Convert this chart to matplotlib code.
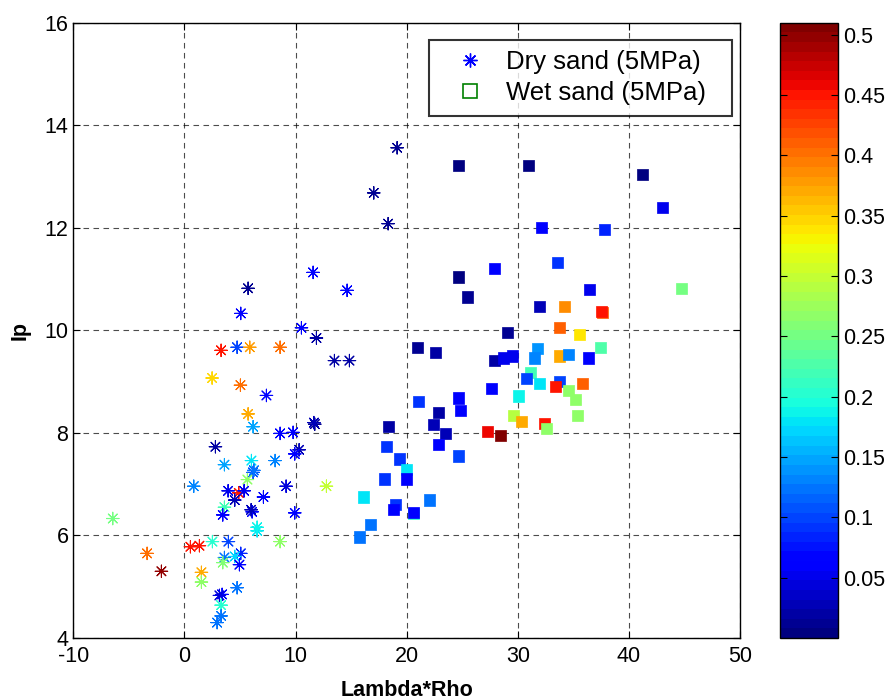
import numpy as np
import matplotlib
matplotlib.use('Agg')
import matplotlib.pyplot as plt
from matplotlib.lines import Line2D

plt.rcParams['font.family'] = ['Liberation Sans', 'DejaVu Sans']
plt.rcParams['axes.unicode_minus'] = False

# ---------------------------------------------------------------
# Data (x = Lambda*Rho, y = Ip, c = colour value)
# ---------------------------------------------------------------
dry_x = [11.58, 5.73, 5.07, 10.53, 11.88, 3.30, 4.74, 5.88, 8.61, 2.49,
         5.04, 7.38, 5.73, 6.18, 11.73, 11.65, 8.61, 9.78, 2.79, 10.32,
         9.93, 3.60, 6.03, 8.16, 6.18, 6.25, 5.67, 0.84, 9.15, 12.78,
         3.93, 4.89, 5.37, 7.11, 4.53, 3.60, 3.45, 6.09, 6.00, 9.93,
         -6.45, 6.54, 6.54, 2.52, 3.96, 8.61, 0.54, 1.35, -3.36, 5.07,
         3.60, 4.53, 3.45, 4.95, -2.07, 1.53, 1.53, 4.74, 3.39, 3.15,
         3.30, 3.30, 2.94, 19.14, 17.04, 18.33, 14.64, 13.50, 14.85]
dry_y = [11.13, 10.82, 10.33, 10.05, 9.85, 9.61, 9.67, 9.67, 9.67, 9.07,
         8.93, 8.73, 8.37, 8.12, 8.17, 8.20, 7.99, 8.01, 7.73, 7.67,
         7.59, 7.38, 7.46, 7.46, 7.23, 7.27, 7.09, 6.96, 6.96, 6.96,
         6.87, 6.83, 6.87, 6.75, 6.69, 6.55, 6.40, 6.46, 6.50, 6.44,
         6.33, 6.09, 6.16, 5.88, 5.88, 5.88, 5.78, 5.80, 5.65, 5.65,
         5.57, 5.59, 5.47, 5.43, 5.30, 5.28, 5.09, 4.98, 4.85, 4.83,
         4.64, 4.43, 4.30, 13.56, 12.68, 12.08, 10.78, 9.41, 9.41]
dry_c = [0.06, 0.01, 0.06, 0.06, 0.02, 0.45, 0.10, 0.38, 0.40, 0.35,
         0.40, 0.06, 0.37, 0.15, 0.01, 0.03, 0.06, 0.06, 0.02, 0.03,
         0.06, 0.15, 0.18, 0.13, 0.11, 0.12, 0.27, 0.13, 0.04, 0.30,
         0.05, 0.45, 0.05, 0.07, 0.03, 0.22, 0.06, 0.07, 0.03, 0.07,
         0.25, 0.18, 0.19, 0.20, 0.10, 0.27, 0.45, 0.45, 0.40, 0.08,
         0.12, 0.17, 0.26, 0.06, 0.50, 0.37, 0.27, 0.12, 0.06, 0.04,
         0.20, 0.12, 0.12, 0.01, 0.01, 0.01, 0.07, 0.02, 0.02]

wet_x = [24.69, 30.99, 41.19, 43.00, 32.10, 37.80, 33.60, 44.76, 27.90, 24.69,
         25.47, 36.48, 31.98, 34.23, 37.60, 37.50, 33.73, 35.53, 37.44, 29.05,
         20.94, 22.59, 27.90, 28.69, 29.52, 31.80, 31.48, 33.73, 34.53, 36.34,
         31.14, 30.78, 31.95, 33.73, 33.42, 35.85, 34.53, 35.19, 35.34, 30.03,
         27.60, 24.66, 24.84, 21.09, 22.89, 22.38, 18.33, 23.52, 29.64, 30.33,
         32.43, 32.61, 27.27, 28.42, 22.89, 18.18, 24.66, 19.32, 19.98, 18.03,
         19.98, 16.08, 22.08, 18.99, 18.84, 20.64, 20.64, 16.74, 15.78]
wet_y = [13.22, 13.22, 13.04, 12.40, 12.01, 11.96, 11.32, 10.82, 11.21, 11.04,
         10.65, 10.79, 10.47, 10.47, 10.34, 10.37, 10.06, 9.92, 9.67, 9.95,
         9.67, 9.56, 9.42, 9.46, 9.50, 9.64, 9.46, 9.50, 9.53, 9.46,
         9.18, 9.06, 8.97, 9.01, 8.90, 8.97, 8.82, 8.65, 8.34, 8.72,
         8.86, 8.68, 8.43, 8.62, 8.39, 8.16, 8.12, 7.98, 8.34, 8.23,
         8.19, 8.09, 8.02, 7.95, 7.77, 7.73, 7.55, 7.49, 7.29, 7.10,
         7.10, 6.75, 6.69, 6.61, 6.50, 6.42, 6.45, 6.22, 5.97]
wet_c = [0.00, 0.00, 0.00, 0.05, 0.06, 0.08, 0.09, 0.25, 0.06, 0.00,
         0.01, 0.05, 0.03, 0.39, 0.41, 0.45, 0.41, 0.34, 0.23, 0.01,
         0.01, 0.02, 0.02, 0.05, 0.05, 0.14, 0.13, 0.37, 0.13, 0.06,
         0.22, 0.10, 0.18, 0.10, 0.45, 0.41, 0.27, 0.27, 0.27, 0.19,
         0.06, 0.06, 0.06, 0.09, 0.02, 0.03, 0.02, 0.03, 0.29, 0.37,
         0.45, 0.27, 0.46, 0.51, 0.06, 0.09, 0.10, 0.09, 0.18, 0.09,
         0.06, 0.18, 0.12, 0.09, 0.06, 0.20, 0.06, 0.12, 0.12]

x_ticks = [-10, 0, 10, 20, 30, 40, 50]
y_ticks = [4, 6, 8, 10, 12, 14, 16]
cbar_ticks = [0.05, 0.1, 0.15, 0.2, 0.25, 0.3, 0.35, 0.4, 0.45, 0.5]
cbar_labels = ['0.05', '0.1', '0.15', '0.2', '0.25', '0.3', '0.35', '0.4', '0.45', '0.5']

# ---------------------------------------------------------------
# Plot
# ---------------------------------------------------------------
fig = plt.figure(figsize=(8.93, 7.0), dpi=100)
ax = fig.add_axes([0.0821, 0.0886, 0.7466, 0.879])
cax = fig.add_axes([0.8735, 0.0886, 0.065, 0.879])

cmap = plt.get_cmap('jet', 64)
vmin, vmax = 0.0, 0.51

asterisk = (8, 2, 0)
ax.scatter(wet_x, wet_y, c=wet_c, cmap=cmap, vmin=vmin, vmax=vmax,
           marker='s', s=64, edgecolors='face', linewidths=0.5, zorder=3)
sc = ax.scatter(dry_x, dry_y, c=dry_c, cmap=cmap, vmin=vmin, vmax=vmax,
                marker=asterisk, s=80, linewidths=0.8, zorder=4)

ax.set_xlim(-10, 50)
ax.set_ylim(4, 16)
ax.set_xticks(x_ticks)
ax.set_yticks(y_ticks)
ax.tick_params(direction='in', top=True, right=True, labelsize=15.5,
               length=5, width=0.8)
ax.tick_params(axis='x', pad=6)
ax.grid(True, color='black', linestyle=(0, (5, 4)), linewidth=0.8, alpha=0.7)
ax.set_axisbelow(True)
for sp in ax.spines.values():
    sp.set_linewidth(1.0)

ax.set_xlabel('Lambda*Rho', fontsize=15.5, fontweight='bold', labelpad=9)
ax.set_ylabel('Ip', fontsize=15.5, fontweight='bold', labelpad=10)

handles = [
    Line2D([], [], linestyle='none', marker=asterisk, color='blue',
           markersize=10, markeredgewidth=1.0, label='Dry sand (5MPa)'),
    Line2D([], [], linestyle='none', marker='s', markerfacecolor='none',
           markeredgecolor='green', markersize=10, markeredgewidth=1.2,
           label='Wet sand (5MPa)'),
]
leg = ax.legend(handles=handles, loc='upper left',
                bbox_to_anchor=(0.534, 0.85, 0.4536, 0.122), mode='expand',
                fontsize=18.5, frameon=True, fancybox=False, borderpad=0.4,
                handletextpad=0.27, labelspacing=0.28, borderaxespad=0.0,
                handlelength=2.33)
leg.get_frame().set_edgecolor('black')
leg.get_frame().set_linewidth(1.5)

cb = fig.colorbar(sc, cax=cax, ticks=cbar_ticks)
cb.ax.set_yticklabels(cbar_labels)
cb.ax.tick_params(direction='in', left=True, right=True, labelsize=15.5,
                  length=5, width=0.8)
cb.outline.set_linewidth(1.0)

fig.savefig('out.png', dpi=100)
